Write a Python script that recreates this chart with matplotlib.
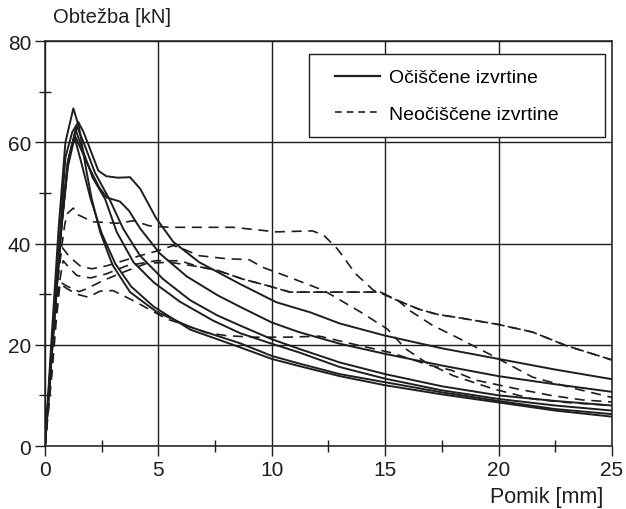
import matplotlib.pyplot as plt
from matplotlib.ticker import MultipleLocator
from matplotlib.lines import Line2D
from matplotlib.legend_handler import HandlerLine2D

plt.rcParams['font.family'] = ['Liberation Sans', 'DejaVu Sans']

# --- Ocisčene izvrtine (solid) ---
s1_x = [0, 0.3, 0.63, 0.9, 1.2, 1.47, 1.7, 2.0, 2.35, 2.7, 3.2, 3.75, 4.2, 4.9, 5.66, 6.8, 8.6, 10.2, 11.7, 13, 15, 17.5, 20, 22.5, 25]
s1_y = [0, 20, 40, 57, 62, 64, 62, 58.5, 54.4, 53.3, 53, 53.1, 50.8, 45, 40.3, 36.3, 32, 28.4, 26.4, 24.2, 21.8, 19.3, 17.2, 15.1, 13.2]
s2_x = [0, 0.35, 0.7, 1.0, 1.32, 1.6, 2.0, 2.4, 2.72, 3.3, 3.7, 4.19, 5.07, 6.25, 7.6, 8.6, 10, 11.2, 13, 15, 17.5, 20, 22.5, 25]
s2_y = [0, 22, 42, 55, 61.3, 58.5, 54.5, 51, 49.1, 48.3, 46.5, 43, 38, 33.5, 29.8, 27.5, 24.4, 22.5, 20.2, 18.2, 15.9, 13.8, 12.2, 10.7]
s3_x = [0, 0.3, 0.65, 1.0, 1.4, 1.7, 2.2, 2.87, 3.45, 4.19, 5.2, 6.4, 7.6, 8.6, 10, 11.2, 13, 15, 17.5, 20, 22.5, 25]
s3_y = [0, 19, 40, 56, 63.2, 60, 54, 48.5, 42.9, 37.6, 33, 28.8, 25.8, 23.8, 21.1, 19.2, 16.5, 14.2, 11.8, 10.0, 8.9, 8.0]
s4_x = [0, 0.35, 0.7, 1.0, 1.35, 1.7, 2.1, 2.65, 3.16, 3.9, 4.8, 5.95, 7.4, 8.6, 10, 11.2, 13, 15, 17.5, 20, 22.5, 25]
s4_y = [0, 21, 42, 56, 62.5, 58, 53, 48.8, 42.3, 36.3, 32.3, 28.5, 24.8, 22.3, 20.2, 18.5, 15.6, 13.3, 11, 9.3, 8.0, 7.0]
s5_x = [0, 0.3, 0.6, 0.9, 1.25, 1.5, 1.8, 2.06, 2.43, 2.87, 3.0, 3.75, 4.92, 6.4, 8.6, 10, 11.2, 13, 15, 17.5, 20, 22.5, 25]
s5_y = [0, 22, 43, 60, 66.7, 63, 55, 48.8, 42.3, 37, 35.6, 30.4, 26.5, 23.5, 20.3, 17.8, 16.3, 14.2, 12.6, 10.6, 8.9, 7.3, 6.3]
s6_x = [0, 0.4, 0.75, 1.05, 1.3, 1.6, 2.0, 2.5, 3.1, 3.8, 4.8, 6.4, 8.6, 10, 11.2, 13, 15, 17.5, 20, 22.5, 25]
s6_y = [0, 24, 45, 57, 61, 56, 49, 42, 36, 31.5, 27.5, 23, 19.5, 17.2, 15.8, 13.8, 12.0, 10.2, 8.6, 7.0, 5.8]

# --- Neočiščene izvrtine (dashed) ---
d1_x = [0, 0.3, 0.6, 0.88, 1.0, 1.25, 1.4, 2.1, 3.2, 3.9, 4.6, 5.5, 8.3, 10.2, 11.8, 12.3, 12.9, 13.7, 14.5, 15.5, 16.1, 17.1, 18.1, 19.75, 21.5, 23.4, 25]
d1_y = [0, 18, 35, 44, 46, 47, 45.8, 44.3, 44, 44.5, 43.5, 43.2, 43.2, 42.3, 42.5, 41.6, 38.9, 34, 30.7, 29, 26.7, 23.8, 21.6, 17.8, 13.6, 11.3, 9.6]
d2_x = [0, 0.3, 0.55, 0.8, 1.03, 1.4, 2.0, 2.7, 3.6, 4.9, 5.95, 6.8, 7.6, 8.7, 9.8, 10.8, 14.8, 15.3, 16.5, 17.3, 18.3, 20, 21.5, 23, 25]
d2_y = [0, 17, 30, 36.6, 35.4, 33.7, 33.2, 34, 35.6, 36.6, 36.6, 35.4, 34.7, 33, 31.7, 30.4, 30.4, 29.2, 27, 26, 25.3, 24, 22.5, 19.8, 17]
d3_x = [0, 0.3, 0.55, 0.74, 1.1, 1.54, 2.06, 2.72, 4.19, 5.0, 5.66, 6.1, 6.8, 8, 9, 9.6, 10.8, 12.3, 13.9, 15.1, 15.9, 16.8, 18, 19.75, 21.5, 23, 25]
d3_y = [0, 16, 32, 39.3, 37.3, 35.6, 35, 35.6, 37.6, 38.6, 39.6, 38.9, 37.6, 37, 36.8, 35.3, 33.3, 30.7, 26.5, 23.1, 19.2, 16.5, 13.9, 11.3, 9.3, 8.6, 8.0]
d4_x = [0, 0.3, 0.5, 0.66, 1.0, 1.5, 1.8, 2.57, 3.6, 4.5, 5.5, 6.8, 7.6, 8.7, 9.8, 10.8, 14.8, 15.3, 16.5, 17.3, 18.3, 20, 21.5, 23, 25]
d4_y = [0, 15, 27, 32.4, 31.5, 30.5, 31, 32.7, 34.6, 36.1, 36.3, 35.4, 34.7, 33, 31.7, 30.4, 30.4, 29.2, 27, 26, 25.3, 24, 22.5, 19.8, 17]
d5_x = [0, 0.3, 0.5, 0.66, 1.0, 1.4, 1.9, 2.43, 3.0, 3.9, 4.8, 5.36, 6.25, 7.1, 8, 9.2, 10.7, 12.1, 13.9, 15.2, 17, 17.9, 19, 20.8, 22.3, 23.7, 25]
d5_y = [0, 14, 25, 32, 31, 30, 29.4, 30.6, 30.7, 28.7, 26.5, 25.1, 23.8, 22.4, 21.8, 21.5, 21.5, 21.7, 19.8, 18.5, 15.9, 15, 13, 11.3, 10, 9.1, 8.7]

solid = [(s1_x, s1_y), (s2_x, s2_y), (s3_x, s3_y), (s4_x, s4_y), (s5_x, s5_y), (s6_x, s6_y)]
dashed = [(d1_x, d1_y), (d2_x, d2_y), (d3_x, d3_y), (d4_x, d4_y), (d5_x, d5_y)]

col = '#1e1e1e'
fig = plt.figure(figsize=(6.26, 5.10), dpi=100)
ax = fig.add_axes([0.0719, 0.1235, 0.9057, 0.7941])

for x, y in solid:
    ax.plot(x, y, color=col, lw=1.4, solid_joinstyle='round')
for x, y in dashed:
    ax.plot(x, y, color=col, lw=1.2, dashes=(6, 4))

ax.set_xlim(0, 25)
ax.set_ylim(0, 80)
ax.xaxis.set_major_locator(MultipleLocator(5))
ax.yaxis.set_major_locator(MultipleLocator(20))
ax.xaxis.set_minor_locator(MultipleLocator(2.5))
ax.yaxis.set_minor_locator(MultipleLocator(10))
ax.grid(True, which='major', color=col, lw=1.0)
ax.tick_params(which='major', direction='out', length=7, width=1, labelsize=15, colors=col, pad=3)
ax.tick_params(which='minor', direction='inout', length=9, width=1, colors=col)
for sp in ax.spines.values():
    sp.set_color(col)
    sp.set_linewidth(1.1)

fig.text(0.085, 0.965, 'Obtežba [kN]', fontsize=14.5, color=col, va='center', ha='left')
fig.text(0.783, 0.025, 'Pomik [mm]', fontsize=15.5, color=col, va='center', ha='left')

handles = [Line2D([], [], color=col, lw=1.6),
           Line2D([], [], color=col, lw=1.2, dashes=(4, 3))]
hmap = {h: HandlerLine2D(xpad=0.57) for h in handles}
leg = ax.legend(handles, ['Očiščene izvrtine', 'Neočiščene izvrtine'],
                handler_map=hmap,
                loc='upper left', bbox_to_anchor=(0.4656, 0.968, 0.522, 0.0),
                mode='expand', borderaxespad=0,
                fontsize=14, frameon=True, fancybox=False, handlelength=2.87,
                borderpad=0.76, labelspacing=0.96, handletextpad=0.5)
leg._legend_box.align = 'left'
leg.get_frame().set_edgecolor(col)
leg.get_frame().set_linewidth(1.0)
leg.get_frame().set_alpha(1)

fig.savefig('out.png', dpi=100)
